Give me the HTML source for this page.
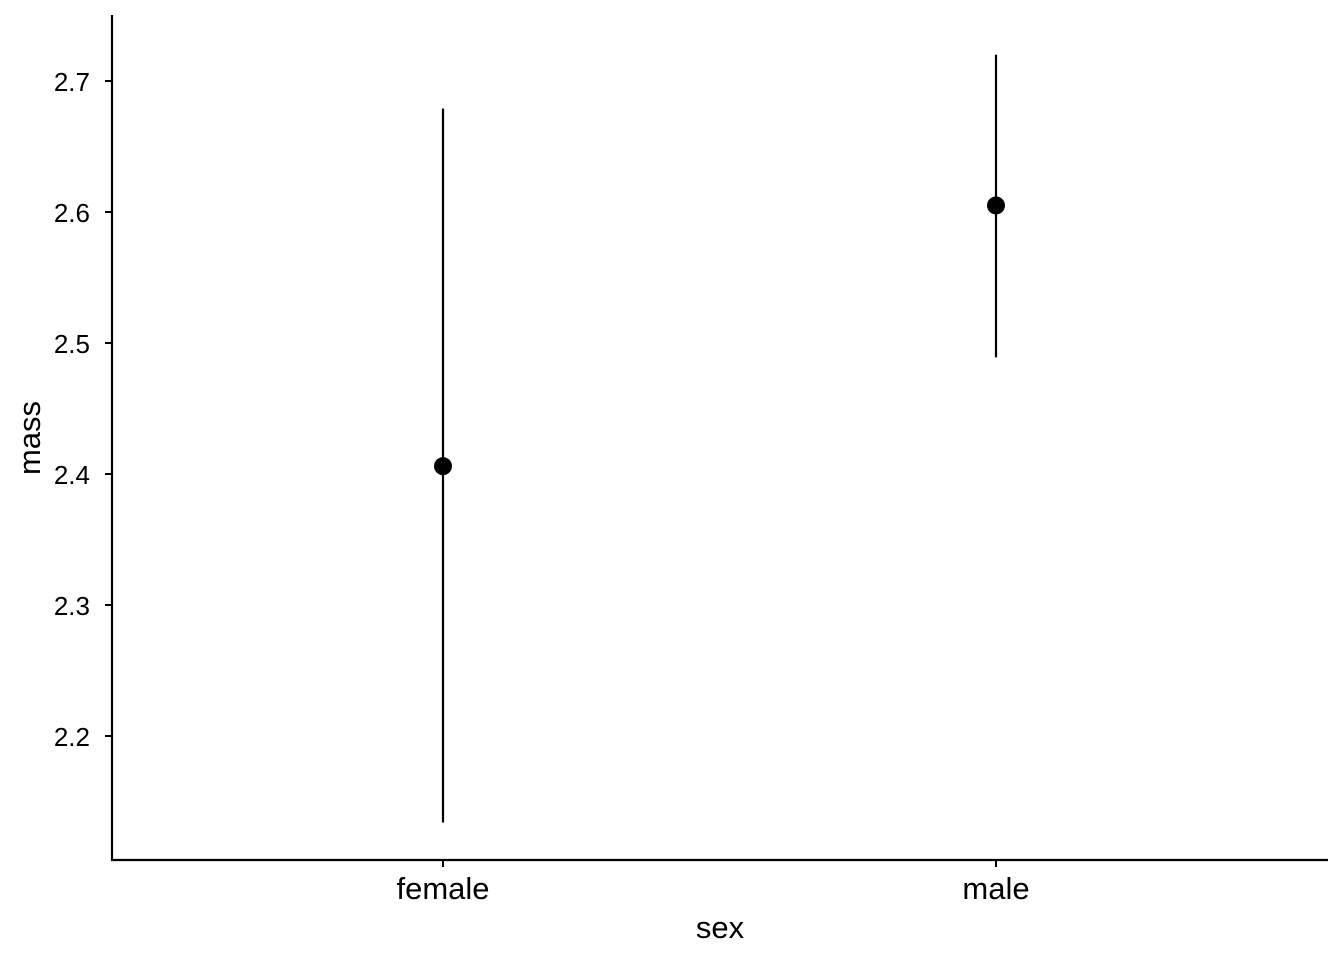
<!DOCTYPE html>
<html><head><meta charset="utf-8"><style>html,body{margin:0;padding:0;background:#fff}svg{display:block}text{font-family:"Liberation Sans",Arial,sans-serif;fill:#000}</style></head>
<body>
<svg id="chart" width="1344" height="960" xmlns="http://www.w3.org/2000/svg"></svg>
<script>
const categories = ["female", "male"];
const means = [2.406, 2.605];
const lowers = [2.134, 2.489];
const uppers = [2.679, 2.720];
const yTicks = [2.2, 2.3, 2.4, 2.5, 2.6, 2.7];
const yTickLabels = ["2.2", "2.3", "2.4", "2.5", "2.6", "2.7"];

const svgEl = document.getElementById('chart');
const NS = 'http://www.w3.org/2000/svg';
const plotLeft = 112, plotRight = 1328, plotTop = 15, plotBottom = 860;
function yScale(v){ return 736 - (v - 2.2) * 1310; }
function xScale(i){ return 443 + i * 553; }
function mk(tag, attrs){ const e = document.createElementNS(NS, tag); for (const k in attrs) e.setAttribute(k, attrs[k]); svgEl.appendChild(e); return e; }

const yAxis = mk('line', {x1:plotLeft, y1:plotTop, x2:plotLeft, y2:plotBottom+1, stroke:'#000', 'stroke-width':2.2});


const xAxis = mk('line', {x1:plotLeft-1, y1:plotBottom, x2:plotRight, y2:plotBottom, stroke:'#000', 'stroke-width':2.2});



yTicks.forEach((t, i) => {
  const tk = mk('line', {x1:plotLeft-7, y1:yScale(t), x2:plotLeft, y2:yScale(t), stroke:'#000', 'stroke-width':2});
  
  
  const lb = mk('text', {x:90, y:yScale(t)+10, 'text-anchor':'end', 'font-size':26});
  lb.textContent = yTickLabels[i];
  
  
});

categories.forEach((c, i) => {
  const tk = mk('line', {x1:xScale(i), y1:plotBottom, x2:xScale(i), y2:plotBottom+7, stroke:'#000', 'stroke-width':2});
  
  
  const lb = mk('text', {x:xScale(i), y:899, 'text-anchor':'middle', 'font-size':31});
  lb.textContent = c;
  
  
  const er = mk('line', {x1:xScale(i), y1:yScale(lowers[i]), x2:xScale(i), y2:yScale(uppers[i]), stroke:'#000', 'stroke-width':2.2});
  
  
  const pt = mk('circle', {cx:xScale(i), cy:yScale(means[i]), r:9, fill:'#000'});
  
  
});

const xt = mk('text', {x:720, y:938, 'text-anchor':'middle', 'font-size':31});
xt.textContent = 'sex';


const yt = mk('text', {x:0, y:0, 'text-anchor':'middle', 'font-size':31, transform:'translate(40,438) rotate(-90)'});
yt.textContent = 'mass';


</script>
</body></html>
